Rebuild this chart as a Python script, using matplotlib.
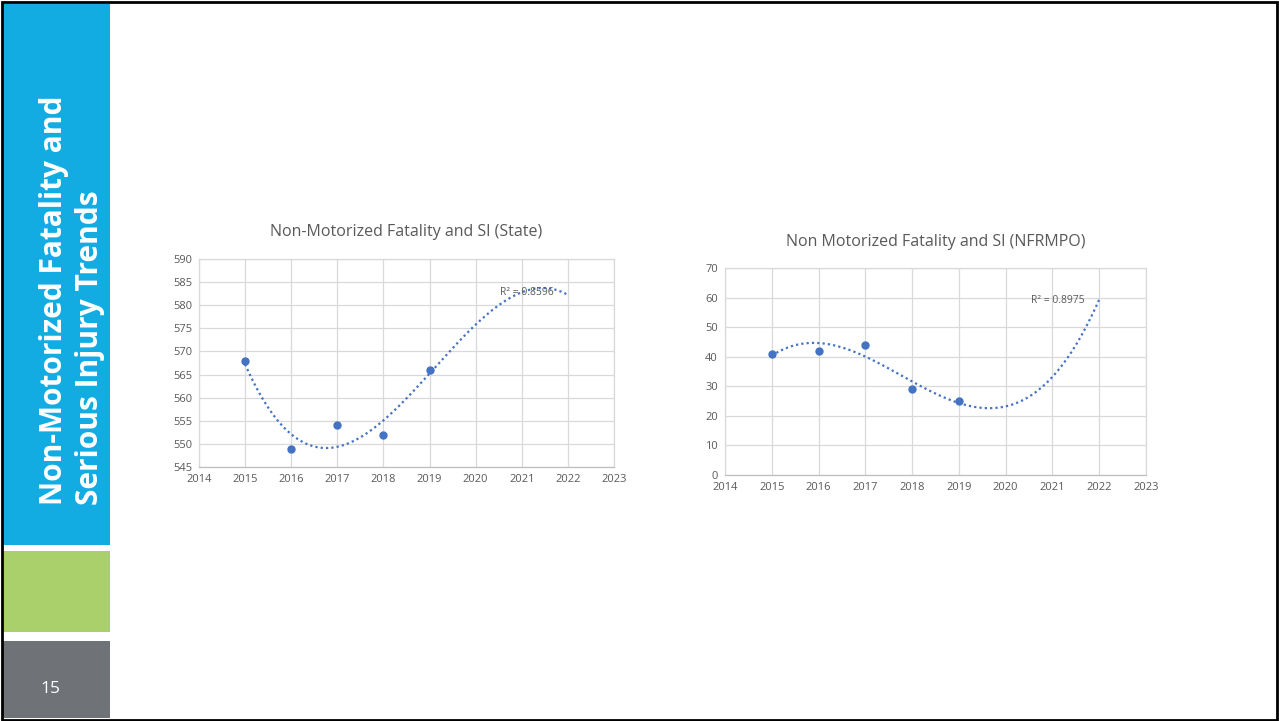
import numpy as np
import matplotlib.pyplot as plt
from matplotlib.patches import Rectangle

plt.rcParams['font.family'] = ['Open Sans', 'DejaVu Sans']

years = [2015, 2016, 2017, 2018, 2019]
state_vals = [568, 549, 554, 552, 566]
mpo_vals = [41, 42, 44, 29, 25]
trend_end = 2022

state_title = "Non-Motorized Fatality and SI (State)"
mpo_title = "Non Motorized Fatality and SI (NFRMPO)"
side_title = "Non-Motorized Fatality and\nSerious Injury Trends"
slide_no = "15"

BLUE = "#12ACE3"
GREEN = "#A9D06A"
GRAY = "#6F7377"
PT = "#4472C4"
GRID = "#D9D9D9"
TXT = "#595959"

W, H = 1279, 721
fig = plt.figure(figsize=(W / 100, H / 100), dpi=100)


def px_rect(x0, y0, x1, y1):
    # pixel box (top-left origin) -> figure fraction
    return [x0 / W, 1 - y1 / H, (x1 - x0) / W, (y1 - y0) / H]


# sidebar blocks
for (x0, y0, x1, y1), c in [((3, 4, 110, 545), BLUE), ((3, 551, 110, 632), GREEN), ((3, 641, 110, 718), GRAY)]:
    b = px_rect(x0, y0, x1, y1)
    fig.patches.append(Rectangle((b[0], b[1]), b[2], b[3], transform=fig.transFigure,
                                 facecolor=c, edgecolor="none", zorder=0))
# slide border
fig.patches.append(Rectangle((0.0015, 0.002), 0.997, 0.995, transform=fig.transFigure,
                             facecolor="none", edgecolor="black", linewidth=2.0, zorder=5))

fig.text(72 / W, 1 - 505 / H, side_title, rotation=90, ha="center", va="bottom",
         multialignment="left", color="white", fontsize=21.5, fontweight="bold",
         linespacing=1.25)
fig.text(50 / W, 1 - 689 / H, slide_no, ha="center", va="center", color="white", fontsize=12.5)


def trend_panel(box, vals, ylim, ystep, title, title_y, r2_pos):
    ax = fig.add_axes(px_rect(*box))
    x = np.array(years, dtype=float)
    y = np.array(vals, dtype=float)
    coef = np.polyfit(x - 2015, y, 3)
    fit = np.polyval(coef, x - 2015)
    r2 = 1 - np.sum((y - fit) ** 2) / np.sum((y - y.mean()) ** 2)
    xs = np.linspace(2015, trend_end, 200)
    ax.plot(xs, np.polyval(coef, xs - 2015), linestyle=(0, (1, 1.4)), color=PT, linewidth=1.6, zorder=3)
    ax.plot(x, y, "o", color=PT, markersize=5, zorder=4)
    ax.set_xlim(2014, 2023)
    ax.set_ylim(*ylim)
    ax.set_xticks(range(2014, 2024))
    ax.set_yticks(np.arange(ylim[0], ylim[1] + 0.1, ystep))
    ax.grid(True, color=GRID, linewidth=0.9)
    ax.set_axisbelow(True)
    for s in ax.spines.values():
        s.set_color(GRID)
        s.set_linewidth(0.9)
    ax.spines["bottom"].set_color("#BFBFBF")
    ax.tick_params(length=0, labelsize=8, colors=TXT, pad=5)
    ax.text(*r2_pos, f"R² = {r2:.4f}", transform=ax.transAxes, fontsize=7.5, color=TXT,
            ha="left", va="center")
    fig.text((box[0] + box[2]) / 2 / W, 1 - title_y / H, title, ha="center", va="center",
             fontsize=11.5, color=TXT)
    return ax


trend_panel((199, 259, 614, 467), state_vals, (545, 590), 5, state_title, 232, (0.725, 0.837))
trend_panel((725, 268, 1146, 475), mpo_vals, (0, 70), 10, mpo_title, 242, (0.727, 0.845))

fig.savefig("out.png", dpi=100, facecolor="white")
